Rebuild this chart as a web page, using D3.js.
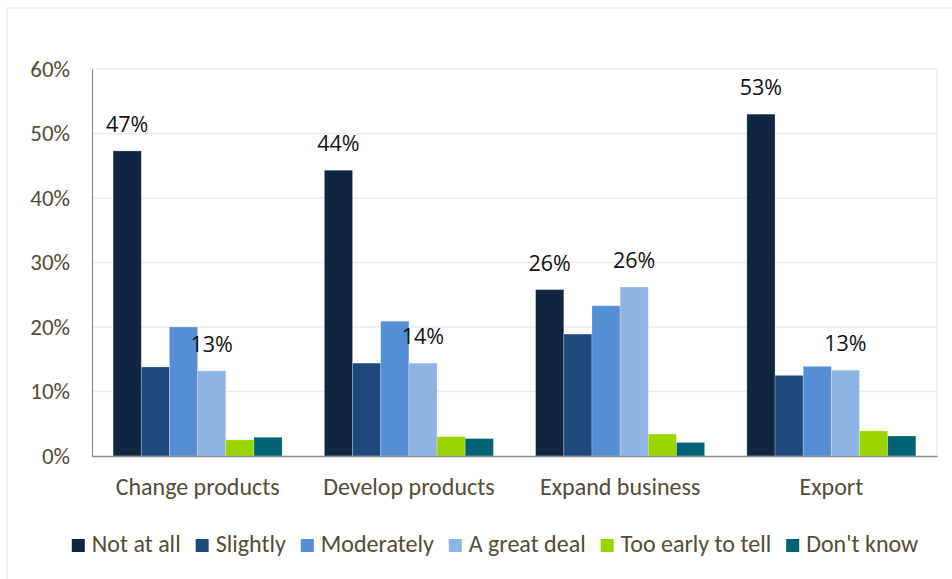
<!DOCTYPE html>
<html>
<head>
<meta charset="utf-8">
<script src="https://cdn.jsdelivr.net/npm/d3@7"></script>
<style>
  html, body { margin: 0; padding: 0; background: #fff; }
  svg { display: block; }
</style>
</head>
<body>
<svg id="chart" width="952" height="579"></svg>
<script>
// Survey results: impact on each business activity (share of respondents)
const categories = ["Change products", "Develop products", "Expand business", "Export"];
const seriesNames = ["Not at all", "Slightly", "Moderately", "A great deal", "Too early to tell", "Don't know"];
const seriesColors = ["#10253f", "#1f497d", "#558ed5", "#8eb4e3", "#99d600", "#006373"];

const notAtAll      = [47.3, 44.3, 25.8, 53.0];
const slightly      = [13.8, 14.4, 18.9, 12.5];
const moderately    = [20.0, 20.9, 23.3, 13.9];
const aGreatDeal    = [13.2, 14.4, 26.2, 13.3];
const tooEarly      = [2.5, 3.0, 3.4, 3.9];
const dontKnow      = [2.9, 2.7, 2.1, 3.1];
const seriesValues  = [notAtAll, slightly, moderately, aGreatDeal, tooEarly, dontKnow];

// Only these series carry value labels
const labelledSeries = ["Not at all", "A great deal"];

const yTicks = [0, 10, 20, 30, 40, 50, 60];

const axisFont = "Carlito, Calibri, Lato, sans-serif";
const tickSize = 23;
const catSize = 24;
const labelFont = "'Open Sans', 'Noto Sans', sans-serif";
const textColor = "#524d36";

const svg = d3.select("#chart");

// outer chart frame
svg.append("rect")
  .attr("x", 7).attr("y", 8)
  .attr("width", 980).attr("height", 620)
  .attr("fill", "none")
  .attr("stroke", "#ececec")
  .attr("stroke-width", 1.5);

const plot = { left: 92, right: 937, top: 69, bottom: 456 };

const x0 = d3.scaleBand()
  .domain(categories)
  .range([plot.left, plot.right])
  .paddingInner(0.2)
  .paddingOuter(0.1);

const x1 = d3.scaleBand()
  .domain(seriesNames)
  .range([0, x0.bandwidth()]);

const y = d3.scaleLinear()
  .domain([0, 60])
  .range([plot.bottom, plot.top]);

// gridlines
svg.append("g")
  .selectAll("line")
  .data(yTicks.filter(t => t > 0))
  .join("line")
  .attr("x1", plot.left).attr("x2", plot.right)
  .attr("y1", d => y(d)).attr("y2", d => y(d))
  .attr("stroke", "#ececec")
  .attr("stroke-width", 1.5);

// right edge of plot area
svg.append("line")
  .attr("x1", plot.right).attr("x2", plot.right)
  .attr("y1", plot.top).attr("y2", plot.bottom)
  .attr("stroke", "#ececec")
  .attr("stroke-width", 1.5);

// y axis
const yAxis = d3.axisLeft(y)
  .tickValues(yTicks)
  .tickFormat(d => d + "%")
  .tickSize(0)
  .tickPadding(22);

const yG = svg.append("g")
  .attr("transform", `translate(${plot.left},0)`)
  .call(yAxis);
yG.select(".domain").attr("stroke", "#8c8c8c").attr("stroke-width", 1.2);
yG.selectAll("text")
  .attr("font-family", axisFont)
  .attr("font-size", tickSize)
  .attr("fill", textColor);

// bars
const groups = svg.append("g")
  .selectAll("g")
  .data(categories)
  .join("g")
  .attr("transform", d => `translate(${x0(d)},0)`);

groups.selectAll("rect")
  .data((c, ci) => seriesNames.map((s, si) => ({ series: s, value: seriesValues[si][ci], color: seriesColors[si] })))
  .join("rect")
  .attr("x", d => x1(d.series))
  .attr("width", x1.bandwidth())
  .attr("y", d => y(d.value))
  .attr("height", d => y(0) - y(d.value))
  .attr("fill", d => d.color)
  .attr("stroke", "rgba(255,255,255,0.3)")
  .attr("stroke-width", 0.8);

// value labels
groups.selectAll("text.value")
  .data((c, ci) => seriesNames
    .map((s, si) => ({ series: s, value: seriesValues[si][ci] }))
    .filter(d => labelledSeries.includes(d.series)))
  .join("text")
  .attr("class", "value")
  .attr("x", d => x1(d.series) + x1.bandwidth() / 2)
  .attr("y", d => y(d.value) - 19)
  .attr("text-anchor", "middle")
  .attr("font-family", labelFont)
  .attr("font-size", 21.5)
  .attr("fill", "#111")
  .text(d => Math.round(d.value) + "%");

// x axis
const xAxis = d3.axisBottom(x0).tickSize(0).tickPadding(22);
const xG = svg.append("g")
  .attr("transform", `translate(0,${plot.bottom})`)
  .call(xAxis);
xG.select(".domain").attr("stroke", "#8c8c8c").attr("stroke-width", 1.5);
xG.selectAll("text")
  .attr("font-family", axisFont)
  .attr("font-size", catSize)
  .attr("fill", textColor);

// legend
const legend = svg.append("g");
const items = legend.selectAll("g")
  .data(seriesNames)
  .join("g");
items.append("rect")
  .attr("width", 13).attr("height", 13)
  .attr("y", -13)
  .attr("fill", (d, i) => seriesColors[i]);
items.append("text")
  .attr("x", 20)
  .attr("font-family", axisFont)
  .attr("font-size", catSize)
  .attr("fill", textColor)
  .text(d => d);

let cursor = 0;
items.each(function () {
  const g = d3.select(this);
  const w = g.select("text").node().getComputedTextLength();
  g.attr("transform", `translate(${cursor},0)`);
  cursor += 20 + w + 15;
});
const legendWidth = cursor - 15;
legend.attr("transform", `translate(${495 - legendWidth / 2},552)`);
</script>
</body>
</html>
